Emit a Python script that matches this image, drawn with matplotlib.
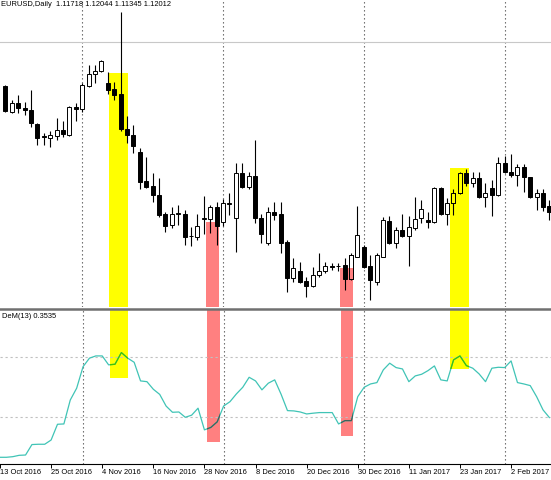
import numpy as np
import matplotlib
matplotlib.use("Agg")
import matplotlib.pyplot as plt
from matplotlib.patches import Rectangle
from matplotlib.lines import Line2D
from matplotlib.colors import to_rgb

plt.rcParams['font.family'] = ['Liberation Sans', 'DejaVu Sans']

# EURUSD daily bars, bar 0 = 13 Oct 2016 (weekdays only), bars 1..86 drawn
bar_index = np.arange(1, 87)
opens = [1.10558, 1.09689, 1.09990, 1.09833, 1.09756, 1.09288, 1.08871, 1.08821, 1.08888, 1.09088,
         1.08921, 1.09856, 1.09789, 1.10558, 1.10958, 1.11059, 1.10658, 1.10457, 1.10290, 1.09121,
         1.08921, 1.08363, 1.07385, 1.07218, 1.06917, 1.06282, 1.05915, 1.06266, 1.06282, 1.05564,
         1.05524, 1.06099, 1.06115, 1.06506, 1.06025, 1.06623, 1.06149, 1.07652, 1.07174, 1.07552,
         1.06149, 1.05324, 1.06359, 1.06282, 1.05357, 1.04135, 1.04389, 1.04055, 1.03878, 1.04245,
         1.04389, 1.04546, 1.04529, 1.04569, 1.04101, 1.04856, 1.05170, 1.04546, 1.04021, 1.04856,
         1.06059, 1.05304, 1.05748, 1.05548, 1.05805, 1.06139, 1.06082, 1.06025, 1.07141, 1.06282,
         1.06660, 1.06994, 1.07642, 1.07308, 1.07475, 1.06840, 1.07141, 1.06917, 1.07976, 1.07695,
         1.07585, 1.07862, 1.07508, 1.06840, 1.06994, 1.06550]
highs = [1.10591, 1.10090, 1.10257, 1.10023, 1.10424, 1.09322, 1.08988, 1.09055, 1.09489, 1.09389,
         1.09890, 1.09990, 1.10658, 1.11259, 1.11259, 1.11426, 1.11025, 1.10691, 1.13029, 1.09556,
         1.09255, 1.08487, 1.08196, 1.07652, 1.07485, 1.06359, 1.06526, 1.06583, 1.06416, 1.05848,
         1.06282, 1.06884, 1.06583, 1.06683, 1.06783, 1.06984, 1.07986, 1.07986, 1.07695, 1.08754,
         1.06282, 1.06526, 1.06693, 1.06693, 1.05414, 1.04813, 1.04689, 1.04188, 1.04522, 1.04990,
         1.04689, 1.04656, 1.04656, 1.04803, 1.04980, 1.06550, 1.05247, 1.04913, 1.04980, 1.06182,
         1.06216, 1.05838, 1.06282, 1.06216, 1.06860, 1.06750, 1.06359, 1.07194, 1.07174, 1.06807,
         1.07107, 1.07695, 1.07775, 1.07695, 1.07695, 1.07328, 1.07418, 1.08196, 1.08220, 1.08286,
         1.07952, 1.07952, 1.07508, 1.07107, 1.07107, 1.06750]
lows = [1.09689, 1.09656, 1.09656, 1.09589, 1.09188, 1.08587, 1.08587, 1.08520, 1.08754, 1.08854,
        1.08904, 1.09389, 1.09689, 1.10524, 1.10658, 1.11025, 1.10290, 1.10090, 1.09055, 1.08654,
        1.08320, 1.07117, 1.07141, 1.06693, 1.06192, 1.05691, 1.05805, 1.05915, 1.05247, 1.05214,
        1.05414, 1.05614, 1.05658, 1.05247, 1.05882, 1.06249, 1.05023, 1.07151, 1.07107, 1.05972,
        1.05314, 1.05247, 1.06082, 1.04970, 1.03687, 1.04021, 1.03968, 1.03520, 1.03854, 1.04188,
        1.04302, 1.04412, 1.04389, 1.03744, 1.04078, 1.04836, 1.04479, 1.03410, 1.03911, 1.04836,
        1.05280, 1.05137, 1.05524, 1.04546, 1.05748, 1.05972, 1.05805, 1.05992, 1.06259, 1.05915,
        1.06249, 1.06950, 1.07218, 1.07194, 1.06807, 1.06526, 1.06216, 1.06884, 1.07642, 1.07528,
        1.07218, 1.07027, 1.06817, 1.06416, 1.06393, 1.06082]
closes = [1.09723, 1.09999, 1.09823, 1.09766, 1.09322, 1.08821, 1.08838, 1.08921, 1.09088, 1.08954,
          1.09856, 1.09789, 1.10591, 1.10958, 1.11059, 1.11393, 1.10424, 1.10257, 1.09121, 1.08921,
          1.08554, 1.07361, 1.07194, 1.06917, 1.06249, 1.05882, 1.06282, 1.06299, 1.05524, 1.05531,
          1.05882, 1.06132, 1.06516, 1.05882, 1.06650, 1.06656, 1.07652, 1.07194, 1.07552, 1.06149,
          1.05614, 1.06359, 1.06249, 1.05324, 1.04135, 1.04469, 1.04021, 1.03878, 1.04245, 1.04389,
          1.04546, 1.04502, 1.04562, 1.04101, 1.04913, 1.05581, 1.04522, 1.04078, 1.04913, 1.06082,
          1.05304, 1.05748, 1.05548, 1.05838, 1.06105, 1.06439, 1.06015, 1.07141, 1.06282, 1.06660,
          1.06994, 1.07662, 1.07308, 1.07475, 1.06840, 1.06974, 1.06917, 1.07996, 1.07695, 1.07585,
          1.07842, 1.07508, 1.06860, 1.06994, 1.06526, 1.06359]

# DeMarker(13), bars 0..86
dem_values = [0.036, 0.036, 0.040, 0.049, 0.051, 0.120, 0.122, 0.122, 0.150, 0.254,
              0.256, 0.414, 0.492, 0.634, 0.690, 0.705, 0.705, 0.646, 0.650, 0.727,
              0.690, 0.663, 0.540, 0.535, 0.485, 0.451, 0.374, 0.333, 0.335, 0.300,
              0.314, 0.360, 0.217, 0.233, 0.270, 0.374, 0.403, 0.454, 0.498, 0.564,
              0.540, 0.481, 0.525, 0.547, 0.452, 0.344, 0.342, 0.335, 0.322, 0.327,
              0.331, 0.331, 0.331, 0.256, 0.278, 0.278, 0.436, 0.498, 0.520, 0.529,
              0.613, 0.657, 0.628, 0.619, 0.535, 0.573, 0.584, 0.608, 0.639, 0.547,
              0.540, 0.679, 0.705, 0.641, 0.624, 0.586, 0.535, 0.624, 0.630, 0.628,
              0.672, 0.529, 0.520, 0.509, 0.436, 0.349, 0.298]
dem_levels = [0.3, 0.7]

tick_bars = [0, 8, 16, 24, 32, 40, 48, 56, 64, 72, 80]
tick_labels = ['13 Oct 2016', '25 Oct 2016', '4 Nov 2016', '16 Nov 2016', '28 Nov 2016',
               '8 Dec 2016', '20 Dec 2016', '30 Dec 2016', '11 Jan 2017', '23 Jan 2017',
               '2 Feb 2017']
month_start_bars = [13, 35, 57, 79]   # 1 Nov, 1 Dec, 2 Jan, 1 Feb
bid_price = 1.12012

# highlight boxes drawn on both windows
box_start = [17.25, 32.35, 53.3, 70.5]
box_end = [20.1, 34.4, 55.3, 73.45]
box_price_top = [1.10992, 1.06025, 1.04489, 1.07819]
box_dem_bottom = [0.562, 0.139, 0.177, 0.619]
box_colors = ['#ffff00', '#ff8080', '#ff8080', '#ffff00']

H = 480.0
fig = plt.figure(figsize=(5.51, 4.80), dpi=100)
ax = fig.add_axes([0, 1 - 307 / H, 1, 307 / H])
ax2 = fig.add_axes([0, 1 - 463.5 / H, 1, 153.5 / H])

x_lo, x_hi = 0.156, 86.25
price_lo, price_hi = 1.03176, 1.1343
dem_lo, dem_hi = -0.005, 1.008
for a in (ax, ax2):
    a.set_xlim(x_lo, x_hi)
    for s in a.spines.values():
        s.set_visible(False)
    a.set_yticks([])
ax.set_ylim(price_lo, price_hi)
ax2.set_ylim(dem_lo, dem_hi)
ax.set_xticks([])

ax2.spines['bottom'].set_visible(True)
ax2.spines['bottom'].set_linewidth(0.8)
ax2.set_xticks(tick_bars, tick_labels)
ax2.tick_params(axis='x', direction='out', length=3, width=0.7, pad=1.2, labelsize=5.4)
for lbl in ax2.get_xticklabels():
    lbl.set_horizontalalignment('left')

sep_style = dict(color='#5a5a5a', lw=0.8, ls=(0, (1.2, 2.4)), zorder=1.5)
for b in month_start_bars:
    ax.axvline(b, **sep_style)
    ax2.axvline(b, **sep_style)
ax.axhline(bid_price, color='#c8c8c8', lw=0.8, zorder=1.5)
for lev in dem_levels:
    ax2.axhline(lev, color='#c0c0c0', lw=0.8, ls=(0, (2, 2.5)), zorder=1.5)

# boxes
line_col = '#40c4b6'
dem_x = np.arange(len(dem_values))
ax2.plot(dem_x, dem_values, color=line_col, lw=0.9, zorder=3)
for x0, x1, top, bot, col in zip(box_start, box_end, box_price_top, box_dem_bottom, box_colors):
    ax.add_patch(Rectangle((x0, price_lo), x1 - x0, top - price_lo, facecolor=col,
                           edgecolor='none', zorder=1))
    p = Rectangle((x0, bot), x1 - x0, dem_hi + 0.05 - bot, facecolor=col,
                  edgecolor='none', zorder=1)
    ax2.add_patch(p)
    # colours multiply where the line crosses a box
    mixed = tuple(u * v for u, v in zip(to_rgb(line_col), to_rgb(col)))
    seg, = ax2.plot(dem_x, dem_values, color=mixed, lw=0.9, zorder=3.1)
    seg.set_clip_path(p)

# candles
body_w = 0.6
ax.vlines(bar_index, lows, highs, color='black', lw=0.8, zorder=2)
for i, o, c in zip(bar_index, opens, closes):
    lo, hi = min(o, c), max(o, c)
    bull = c >= o
    ax.add_patch(Rectangle((i - body_w / 2, lo), body_w, hi - lo,
                           facecolor='white' if bull else 'black',
                           edgecolor='black', lw=0.7, zorder=3))
    if not bull:
        continue
    for x0, x1, top, col in zip(box_start, box_end, box_price_top, box_colors):
        ix0 = max(x0, i - body_w / 2)
        ix1 = min(x1, i + body_w / 2)
        iy1 = min(top, hi)
        if ix1 > ix0 and iy1 > lo:
            ax.add_patch(Rectangle((ix0, lo), ix1 - ix0, iy1 - lo, facecolor=col,
                                   edgecolor='none', zorder=3.1))
            ax.add_patch(Rectangle((i - body_w / 2, lo), body_w, hi - lo, facecolor='none',
                                   edgecolor='black', lw=0.7, zorder=3.2))

# window separator
fig.add_artist(Line2D([0, 1], [1 - 308.5 / H] * 2, transform=fig.transFigure,
                      color='#707070', lw=1.8))

fig.text(1 / 551, 1 - 4.5 / H, 'EURUSD,Daily  1.11718 1.12044 1.11345 1.12012',
         fontsize=5.4, va='center', ha='left')
fig.text(2 / 551, 1 - 317 / H, 'DeM(13) 0.3535', fontsize=5.4, va='center', ha='left')

fig.savefig('out.png', dpi=100)
